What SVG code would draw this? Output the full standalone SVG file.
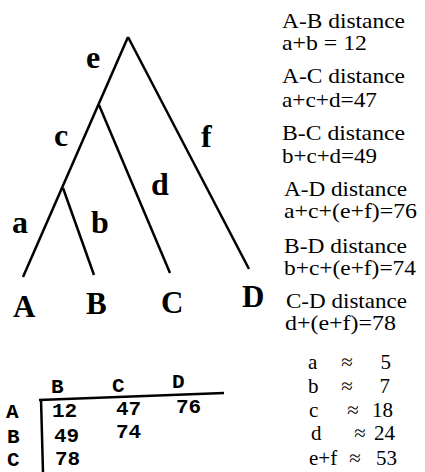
<svg xmlns="http://www.w3.org/2000/svg" width="425" height="472" viewBox="0 0 425 472">
<style>
.edge{stroke:#000;stroke-width:2.5;fill:none;stroke-linecap:butt}
.leaf{font-family:'Liberation Serif','Times New Roman',serif;font-weight:bold;font-size:31px;fill:#000}
.blbl{font-family:'Liberation Serif','Times New Roman',serif;font-weight:bold;font-size:32px;fill:#000}
.dist{font-family:'Liberation Serif','Times New Roman',serif;font-size:21px;fill:#000}
.est{font-family:'Liberation Serif','Times New Roman',serif;font-size:21px;fill:#000}
.mono{font-family:'Liberation Mono','Courier New',monospace;font-weight:bold;font-size:21px;fill:#000}
.rule{stroke:#000;stroke-width:2.5;fill:none}
</style>
<rect width="425" height="472" fill="#fff"/>
<g id="connectors">
<line class="edge" x1="128" y1="37" x2="23" y2="277"/>
<line class="edge" x1="99" y1="105" x2="170" y2="273"/>
<line class="edge" x1="63" y1="188" x2="94" y2="275"/>
<line class="edge" x1="128" y1="37" x2="249" y2="269"/>
<text class="blbl" x="86" y="68">e</text>
<text class="blbl" x="54" y="146">c</text>
<text class="blbl" x="201" y="147">f</text>
<text class="blbl" x="151" y="195">d</text>
<text class="blbl" x="12" y="233">a</text>
<text class="blbl" x="91" y="233">b</text>
</g>
<g id="node-A"><text class="leaf" x="13" y="317">A</text></g>
<g id="node-B"><text class="leaf" x="86" y="314">B</text></g>
<g id="node-C"><text class="leaf" x="161" y="313">C</text></g>
<g id="node-D"><text class="leaf" x="242" y="307">D</text></g>
<g id="distances">
<text class="dist" x="282" y="28" textLength="123" lengthAdjust="spacingAndGlyphs">A-B distance</text>
<text class="dist" x="282" y="50" textLength="85" lengthAdjust="spacingAndGlyphs">a+b = 12</text>
<text class="dist" x="282" y="83" textLength="123" lengthAdjust="spacingAndGlyphs">A-C distance</text>
<text class="dist" x="282" y="107" textLength="95" lengthAdjust="spacingAndGlyphs">a+c+d=47</text>
<text class="dist" x="282" y="140" textLength="123" lengthAdjust="spacingAndGlyphs">B-C distance</text>
<text class="dist" x="282" y="163" textLength="95" lengthAdjust="spacingAndGlyphs">b+c+d=49</text>
<text class="dist" x="284" y="196" textLength="123" lengthAdjust="spacingAndGlyphs">A-D distance</text>
<text class="dist" x="284" y="218" textLength="133" lengthAdjust="spacingAndGlyphs">a+c+(e+f)=76</text>
<text class="dist" x="284" y="253" textLength="123" lengthAdjust="spacingAndGlyphs">B-D distance</text>
<text class="dist" x="284" y="275" textLength="132" lengthAdjust="spacingAndGlyphs">b+c+(e+f)=74</text>
<text class="dist" x="286" y="308" textLength="121" lengthAdjust="spacingAndGlyphs">C-D distance</text>
<text class="dist" x="285" y="330" textLength="111" lengthAdjust="spacingAndGlyphs">d+(e+f)=78</text>
</g>
<g id="estimates">
<text class="est" x="308" y="369">a</text><text class="est" x="347" y="369" text-anchor="middle">≈</text><text class="est" x="391" y="369" text-anchor="end">5</text>
<text class="est" x="308" y="393">b</text><text class="est" x="347" y="393" text-anchor="middle">≈</text><text class="est" x="390" y="393" text-anchor="end">7</text>
<text class="est" x="309" y="417">c</text><text class="est" x="353" y="417" text-anchor="middle">≈</text><text class="est" x="393" y="417" text-anchor="end">18</text>
<text class="est" x="311" y="440">d</text><text class="est" x="360" y="440" text-anchor="middle">≈</text><text class="est" x="395" y="440" text-anchor="end">24</text>
<text class="est" x="309" y="465">e+f</text><text class="est" x="355" y="465" text-anchor="middle">≈</text><text class="est" x="397" y="465" text-anchor="end">53</text>
</g>
<g id="matrix">
<line class="rule" x1="39" y1="400" x2="224" y2="393"/>
<line class="rule" x1="41" y1="399" x2="43" y2="472"/>
<text class="mono" x="51" y="393">B</text>
<text class="mono" x="112" y="392">C</text>
<text class="mono" x="172" y="388">D</text>
<text class="mono" x="6" y="418">A</text>
<text class="mono" x="7" y="443">B</text>
<text class="mono" x="7" y="466">C</text>
<text class="mono" x="52" y="417">12</text>
<text class="mono" x="116" y="415">47</text>
<text class="mono" x="176" y="413">76</text>
<text class="mono" x="54" y="442">49</text>
<text class="mono" x="116" y="438">74</text>
<text class="mono" x="55" y="465">78</text>
</g>
</svg>
